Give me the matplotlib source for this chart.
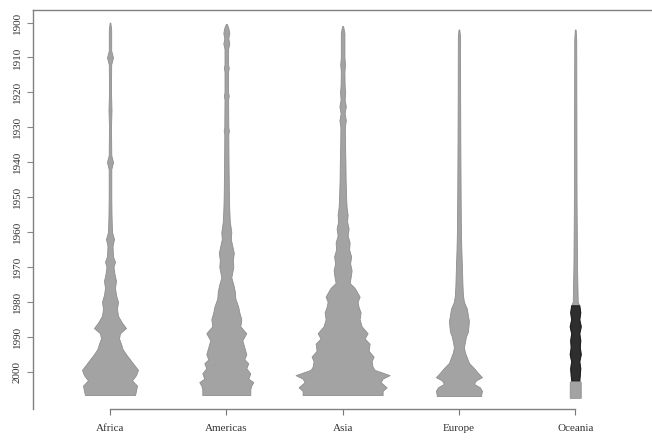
import numpy as np
import matplotlib
matplotlib.use("Agg")
import matplotlib.pyplot as plt

# continents along the x axis
continents = ["Africa", "Americas", "Asia", "Europe", "Oceania"]
year_ticks = list(range(1900, 2001, 10))

# violin outlines: (year, half width of the density)
africa = [(1900.0, 0.3), (1902, 1.2), (1908, 1.2), (1910, 3.0), (1912, 1.2), (1920, 1.0),
          (1925, 1.5), (1930, 1.0), (1938, 1.3), (1940, 3.0), (1942, 1.3), (1950, 1.3),
          (1955, 1.5), (1960, 2.0), (1962, 4.0), (1964, 2.5), (1967, 3.0), (1968.5, 5.0),
          (1970, 3.5), (1972, 4.5), (1974, 6.0), (1976, 5.0), (1978, 6.0), (1980, 8.0),
          (1982, 7.0), (1984, 8.0), (1986, 12.0), (1987.5, 16.0), (1989, 10.0), (1990.5, 9.0),
          (1992, 11.0), (1993.5, 12.5), (1995, 16.0), (1996.5, 20.0), (1998, 24.0),
          (1999.5, 28.0), (2001, 26.0), (2002.5, 22.0), (2004, 27.0), (2005.5, 26.0),
          (2006.7, 25.0)]
americas = [(1900.4, 0.5), (1901.5, 2.0), (1903, 3.0), (1904.5, 2.0), (1906, 3.0),
            (1907.5, 1.8), (1912, 1.8), (1913, 2.5), (1914, 1.8), (1920, 1.8), (1921, 2.5),
            (1922, 1.8), (1930, 2.0), (1931, 2.6), (1932, 2.0), (1940, 2.2), (1945, 2.4),
            (1950, 2.6), (1954, 3.0), (1957, 3.5), (1960, 5.0), (1962, 4.5), (1964, 6.0),
            (1966, 7.5), (1968, 6.5), (1970, 7.0), (1973, 5.0), (1975, 7.0), (1977, 8.5),
            (1979, 9.0), (1981.5, 12.0), (1983, 13.0), (1985, 15.0), (1987, 14.0),
            (1989, 20.0), (1991, 16.0), (1993, 18.0), (1995, 20.0), (1996.5, 18.0),
            (1997.6, 22.0), (1999, 20.0), (2000.5, 24.0), (2002, 22.0), (2003, 27.0),
            (2004, 25.0), (2005, 24.0), (2006.7, 24.0)]
asia = [(1901, 0.5), (1903, 1.8), (1910, 1.8), (1912, 2.4), (1914, 1.8), (1918, 2.0),
        (1920, 2.6), (1922, 2.0), (1924, 3.2), (1926, 2.0), (1928, 3.2), (1930, 2.2),
        (1935, 2.4), (1940, 2.8), (1945, 3.0), (1950, 3.5), (1953, 4.0), (1955, 5.0),
        (1957, 4.5), (1959, 6.0), (1961, 5.0), (1963, 7.0), (1965, 6.5), (1967, 8.5),
        (1969, 7.5), (1971, 9.0), (1973, 8.0), (1974.6, 7.0), (1976, 12.0), (1978.5, 17.0),
        (1980, 15.0), (1981.5, 16.0), (1983, 18.0), (1985, 17.0), (1987, 19.0), (1989, 25.0),
        (1990.5, 22.0), (1992, 27.0), (1994, 26.0), (1995.7, 31.0), (1997, 29.0),
        (1998.6, 30.0), (1999.5, 32.0), (2001, 47.0), (2002, 40.0), (2003, 38.0),
        (2004.5, 44.0), (2005.5, 40.0), (2006.7, 40.0)]
europe = [(1902, 0.4), (1904, 1.1), (1920, 1.2), (1935, 1.4), (1950, 1.7), (1960, 2.0),
          (1965, 2.4), (1970, 3.0), (1975, 3.5), (1978, 4.0), (1980, 5.0), (1982, 8.0),
          (1984, 9.0), (1985.5, 10.0), (1987, 9.5), (1988.5, 9.0), (1990, 7.0), (1991.5, 6.0),
          (1993, 5.0), (1994.5, 6.0), (1996, 8.0), (1997.5, 10.0), (1999, 15.0), (2000, 18.0),
          (2001.6, 23.0), (2002.5, 17.0), (2003.5, 15.0), (2004.5, 21.0), (2005.5, 23.0),
          (2007, 22.0)]
oceania = [(1902, 0.4), (1905, 1.0), (1950, 1.3), (1970, 1.8), (1980, 2.5), (1981, 4.0),
           (1983, 5.0), (1985, 4.0), (1987, 5.5), (1989, 4.0), (1991, 5.0), (1993, 4.5),
           (1995, 5.5), (1997, 4.0), (1999, 5.0), (2001, 4.5), (2002.5, 4.0), (2003, 5.5),
           (2007.5, 5.5)]
profiles = [africa, americas, asia, europe, oceania]

# years where the Oceania violin is drawn dark
oceania_dark = (1981, 2002.5)

width_scale = 1 / 116.3
fill = "#a3a3a3"
ink = "#333333"

fig = plt.figure(figsize=(6.52, 4.43), dpi=100)
ax = fig.add_axes([33 / 652, 1 - 409 / 443, 619 / 652, 399 / 443])

for i, prof in enumerate(profiles):
    pos = i + 1
    yrs = np.array([p[0] for p in prof])
    hw = np.array([p[1] for p in prof]) * width_scale
    ax.fill_betweenx(yrs, pos - hw, pos + hw, facecolor=fill, edgecolor="#8e8e8e",
                     linewidth=0.6, zorder=2)
    if continents[i] == "Oceania":
        m = (yrs >= oceania_dark[0]) & (yrs <= oceania_dark[1])
        ax.fill_betweenx(yrs[m], pos - hw[m], pos + hw[m], facecolor="#2e2e2e",
                         edgecolor="#1e1e1e", linewidth=0.8, zorder=3)

ax.set_xlim(0.338, 5.66)
ax.set_ylim(2010.7, 1896.4)

ax.set_xticks(range(1, 6))
ax.set_xticklabels(continents)
ax.set_yticks(year_ticks)
ax.set_yticklabels([str(y) for y in year_ticks], rotation=90, va="center")

for lab in ax.get_xticklabels() + ax.get_yticklabels():
    lab.set_family("Liberation Serif")
    lab.set_fontsize(8)
    lab.set_color(ink)

ax.tick_params(axis="x", length=4, width=0.8, color="#777777", pad=7)
ax.tick_params(axis="y", length=4, width=0.8, color="#888888", pad=4)

ax.spines["right"].set_visible(False)
ax.spines["bottom"].set_bounds(1, 5)
for s in ["left", "top", "bottom"]:
    ax.spines[s].set_color("#808080")
    ax.spines[s].set_linewidth(1.0)

fig.savefig("out.png", dpi=100)
